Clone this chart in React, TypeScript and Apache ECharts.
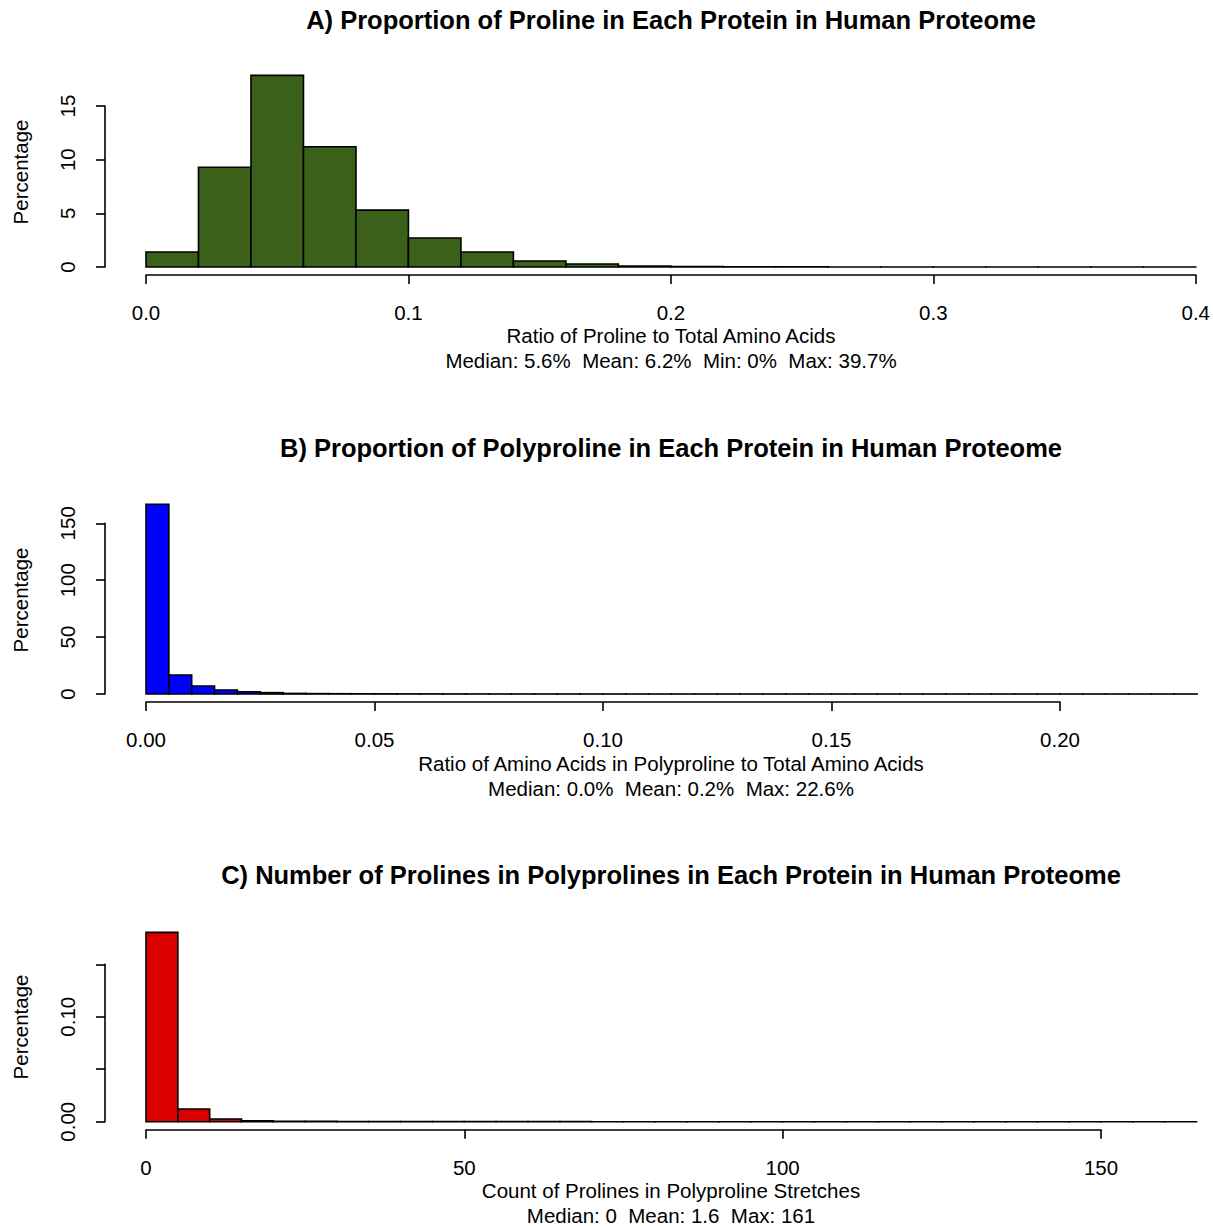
import React, { useEffect, useRef } from "react";
import * as echarts from "echarts";

// Panel A: proportion of proline, bins of 0.02 from 0 to 0.4 (density, %)
const binWidthA = 0.02;
const valuesA = [1.4, 9.3, 17.85, 11.2, 5.3, 2.7, 1.4, 0.56, 0.28, 0.1, 0.04, 0.02, 0.01, 0.006, 0.004, 0.003, 0.002, 0.001, 0.001, 0.001];
const ticksA = [0, 0.1, 0.2, 0.3, 0.4];

// Panel B: proportion of polyproline, bins of 0.005 from 0 to 0.23
const binWidthB = 0.005;
const valuesB = [
  166.7, 16.7, 7.0, 3.5, 2.0, 1.2, 0.5, 0.35, 0.25, 0.2, 0.15, 0.1, 0.08, 0.06, 0.05, 0.04,
  0.03, 0.02, 0.02, 0.015, 0.01, 0.01, 0.008, 0.006, 0.005, 0.004, 0.003, 0.003, 0.002, 0.002,
  0.002, 0.001, 0.001, 0.001, 0.001, 0.001, 0.001, 0.001, 0.001, 0.001, 0.001, 0.001, 0.001, 0.001, 0.001, 0.001,
];
const ticksB = [0, 0.05, 0.1, 0.15, 0.2];

// Panel C: count of prolines in polyprolines, bins of 5 from 0 to 165
const binWidthC = 5;
const valuesC = [
  0.1804, 0.0121, 0.0026, 0.0009, 0.0005, 0.0003, 0.0002, 0.00015, 0.0001, 0.00008, 0.00006,
  0.00005, 0.00004, 0.00003, 0.00002, 0.00002, 0.00001, 0.00001, 0.00001, 0.00001, 0.00001,
  0.00001, 0.00001, 0.00001, 0.00001, 0.00001, 0.00001, 0.00001, 0.00001, 0.00001, 0.00001, 0.00001, 0.00001,
];
const ticksC = [0, 50, 100, 150];

const titles = [
  "A) Proportion of Proline in Each Protein in Human Proteome",
  "B) Proportion of Polyproline in Each Protein in Human Proteome",
  "C) Number of Prolines in Polyprolines in Each Protein in Human Proteome",
];
const xTitles = [
  "Ratio of Proline to Total Amino Acids",
  "Ratio of Amino Acids in Polyproline to Total Amino Acids",
  "Count of Prolines in Polyproline Stretches",
];
const subTitles = [
  "Median: 5.6%  Mean: 6.2%  Min: 0%  Max: 39.7%",
  "Median: 0.0%  Mean: 0.2%  Max: 22.6%",
  "Median: 0  Mean: 1.6  Max: 161",
];
const yTitle = "Percentage";
const colors = ["#3a6019", "#0000ff", "#da0000"];

const FONT = "'Liberation Sans', Arial, Helvetica, sans-serif";
const FS = 20.5;
const LW = 1.6;

function bins(values: number[], width: number) {
  return values.map((v, i) => [i * width, (i + 1) * width, v]);
}

export default function App() {
  const ref = useRef<HTMLDivElement>(null);
  useEffect(() => {
    if (!ref.current) return;
    const chart = echarts.init(ref.current, null, { renderer: "svg" });

    const grids = [
      { left: 146, right: 17, top: 106, bottom: 1226 - 267 },
      { left: 146, right: 153, top: 523.3, bottom: 1226 - 694 },
      { left: 146, right: 112, top: 964.3, bottom: 1226 - 1121.7 },
    ];
    const xCfg = [
      { ticks: ticksA, fmt: (v: number) => v.toFixed(1) },
      { ticks: ticksB, fmt: (v: number) => v.toFixed(2) },
      { ticks: ticksC, fmt: (v: number) => String(Math.round(v)) },
    ];
    const yCfg = [
      { max: 15, interval: 5, fmt: (v: number) => String(Math.round(v)) },
      { max: 150, interval: 50, fmt: (v: number) => String(Math.round(v)) },
      {
        max: 0.15,
        interval: 0.05,
        fmt: (v: number) => (Math.abs(v) < 1e-9 || Math.abs(v - 0.1) < 1e-9 ? v.toFixed(2) : ""),
      },
    ];
    const axisLine = { show: true, onZero: false, lineStyle: { color: "#000", width: LW } };
    const axisTick = { show: true, length: 9, lineStyle: { color: "#000", width: LW } };

    const xAxes = xCfg.map((c, i) => ({
      type: "value",
      gridIndex: i,
      min: 0,
      max: c.ticks[c.ticks.length - 1],
      interval: c.ticks[1] - c.ticks[0],
      offset: 8,
      axisLine,
      axisTick,
      splitLine: { show: false },
      axisLabel: {
        formatter: c.fmt,
        color: "#000",
        fontSize: FS,
        fontFamily: FONT,
        margin: 27,
        showMinLabel: true,
        showMaxLabel: true,
      },
    }));
    const yAxes = yCfg.map((c, i) => ({
      type: "value",
      gridIndex: i,
      min: 0,
      max: c.max,
      interval: c.interval,
      offset: 41,
      axisLine,
      axisTick,
      splitLine: { show: false },
      axisLabel: {
        formatter: c.fmt,
        color: "#000",
        fontSize: FS,
        fontFamily: FONT,
        rotate: 90,
        margin: 27,
        showMinLabel: true,
        showMaxLabel: true,
      },
    }));

    const datasets = [bins(valuesA, binWidthA), bins(valuesB, binWidthB), bins(valuesC, binWidthC)];
    const series = datasets.map((data, i) => ({
      type: "custom",
      xAxisIndex: i,
      yAxisIndex: i,
      clip: false,
      encode: { x: [0, 1], y: 2 },
      data,
      renderItem: (params: any, api: any) => {
        const p0 = api.coord([api.value(0), 0]);
        const p1 = api.coord([api.value(1), api.value(2)]);
        return {
          type: "polygon",
          shape: {
            points: [
              [p0[0], p0[1]],
              [p1[0], p0[1]],
              [p1[0], p1[1]],
              [p0[0], p1[1]],
            ],
          },
          style: { fill: colors[i], stroke: "#000", lineWidth: LW },
        };
      },
    }));

    const offsets = [0, 428, 855];
    const graphic: any[] = [];
    offsets.forEach((dy, i) => {
      graphic.push({
        type: "text",
        x: 671,
        y: 20 + dy,
        style: { text: titles[i], align: "center", verticalAlign: "middle", fontSize: 25.5, fontWeight: "bold", fontFamily: FONT, fill: "#000" },
      });
      graphic.push({
        type: "text",
        x: 671,
        y: 335 + dy,
        style: { text: xTitles[i], align: "center", verticalAlign: "middle", fontSize: FS, fontFamily: FONT, fill: "#000" },
      });
      graphic.push({
        type: "text",
        x: 671,
        y: 360 + dy,
        style: { text: subTitles[i], align: "center", verticalAlign: "middle", fontSize: FS, fontFamily: FONT, fill: "#000" },
      });
      graphic.push({
        type: "text",
        x: 20,
        y: 172 + dy,
        rotation: Math.PI / 2,
        style: { text: yTitle, align: "center", verticalAlign: "middle", fontSize: FS, fontFamily: FONT, fill: "#000" },
      });
    });

    chart.setOption({
      animation: false,
      backgroundColor: "#fff",
      grid: grids,
      xAxis: xAxes,
      yAxis: yAxes,
      series,
      graphic,
    } as any);
    return () => chart.dispose();
  }, []);
  return <div ref={ref} style={{ position: "absolute", left: 0, top: 0, width: 1213, height: 1226 }} />;
}
